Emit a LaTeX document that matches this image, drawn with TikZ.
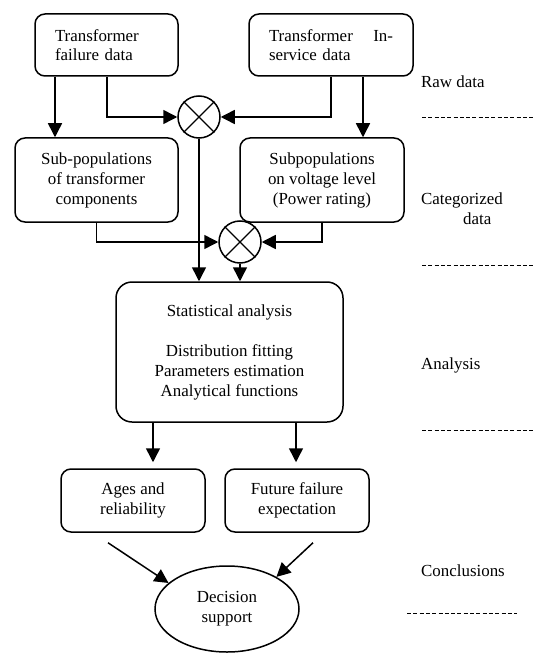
\documentclass[tikz,border=0pt]{standalone}
\usepackage{fontspec}
\setmainfont{Liberation Serif}
\usetikzlibrary{arrows.meta,shapes.geometric}
\begin{document}
\begin{tikzpicture}[x=1pt,y=-1pt,
  every node/.style={font=\fontsize{16.9}{20}\selectfont},
  box/.style={draw,line width=1.5pt,rounded corners=10pt,inner sep=0pt,align=center},
  lbox/.style={box,align=left,inner xsep=20pt,font=\fontsize{16.9}{18.5}\selectfont},
  mix/.style={draw,circle,line width=1.5pt,minimum size=42pt,inner sep=0pt},
  arr/.style={line width=1.5pt,-{Triangle[length=14pt,width=14pt]}},
  sep/.style={line width=1pt,dash pattern=on 4pt off 2.3pt},
  side/.style={anchor=west,inner sep=0pt,align=left}]
\useasboundingbox (0,0) rectangle (534,655);

% boxes
\node[lbox,text width=103pt,minimum height=62pt] (b1) at (106.5,45) {Transformer\\failure data};
\node[lbox,text width=124pt,minimum height=62pt] (b2) at (331,45) {Transformer\hfill In-\\service data};
\node[box,minimum width=163pt,minimum height=84pt] (b3) at (96.5,180) {Sub-populations\\of transformer\\components};
\node[box,minimum width=164pt,minimum height=84pt] (b4) at (322,180) {Subpopulations\\on voltage level\\(Power rating)};
\node[box,rounded corners=16pt,minimum width=227pt,minimum height=140pt] (b5) at (229.5,352) {Statistical analysis\\[20pt]Distribution fitting\\Parameters estimation\\Analytical functions};
\node[box,minimum width=144pt,minimum height=63pt] (b6) at (133,500.5) {Ages and\\reliability};
\node[box,minimum width=144pt,minimum height=63pt] (b7) at (297,500.5) {Future failure\\expectation};
\node[draw,ellipse,line width=1.5pt,minimum width=144pt,minimum height=86pt,inner sep=0pt,align=center] (e) at (227,609) {Decision\\support};

% mixers
\node[mix] (c1) at (199,117) {};
\draw[line width=1.2pt] (c1.north east) -- (c1.south west) (c1.north west) -- (c1.south east);
\node[mix] (c2) at (240,242) {};
\draw[line width=1.2pt] (c2.north east) -- (c2.south west) (c2.north west) -- (c2.south east);

% connectors
\coordinate (p1) at ([xshift=-51.5]b1.south);
\draw[arr] (p1) -- (p1 |- b3.north);
\coordinate (p2) at ([xshift=0.5]b1.south);
\draw[arr] (p2) |- (c1.west);
\draw[arr] (b2.south) |- (c1.east);
\coordinate (p3) at ([xshift=32]b2.south);
\draw[arr] (p3) -- (p3 |- b4.north);
\draw[arr] (c1.south) -- (c1.south |- b5.north);
\draw[arr] (b3.south) |- (c2.west);
\draw[arr] (b4.south) |- (c2.east);
\draw[arr] (c2.south) -- (c2.south |- b5.north);
\coordinate (q1) at ([xshift=-76.5]b5.south);
\draw[arr,shorten >=6pt] (q1) -- (q1 |- b6.north);
\coordinate (q2) at ([xshift=66.5]b5.south);
\draw[arr,shorten >=6pt] (q2) -- (q2 |- b7.north);
\coordinate (r1) at ([xshift=-25pt,yshift=-10pt]b6.south);
\draw[arr] (r1) -- (e.156);
\coordinate (r2) at ([xshift=16pt,yshift=-10pt]b7.south);
\draw[arr] (r2) -- (e.33);

% side labels
\node[side] (l1) at (421,82) {Raw data};
\node[side] (l2) at (421,208.5) {Categorized\\\hspace*{42pt}data};
\node[side] (l3) at (421,365) {Analysis};
\node[side] (l4) at (421,571) {Conclusions};
\coordinate (d1a) at (422,118); \coordinate (d1b) at (534,118);
\coordinate (d2a) at (422,265); \coordinate (d2b) at (534,265);
\coordinate (d3a) at (422,430); \coordinate (d3b) at (534,430);
\coordinate (d4a) at (407,613); \coordinate (d4b) at (517,613);
\draw[sep] (d1a) -- (d1b);
\draw[sep] (d2a) -- (d2b);
\draw[sep] (d3a) -- (d3b);
\draw[sep] (d4a) -- (d4b);
\end{tikzpicture}
\end{document}
